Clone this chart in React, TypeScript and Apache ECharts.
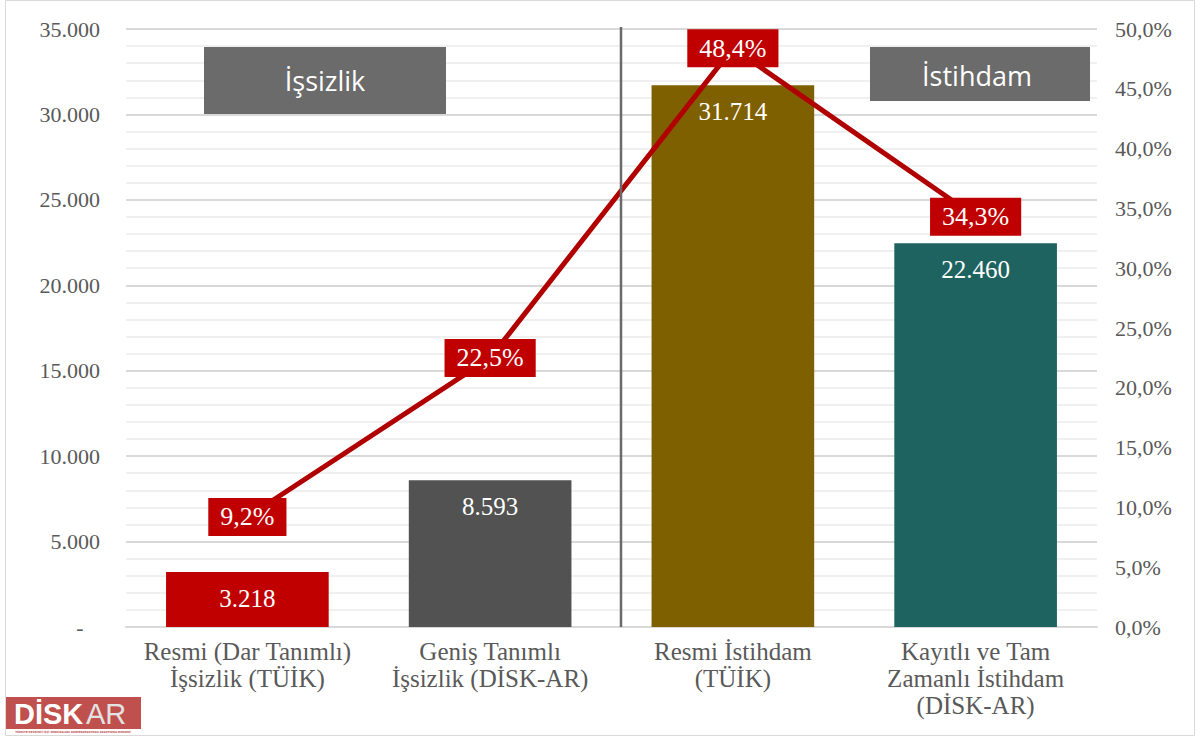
import React, { useEffect, useRef } from "react";
import * as echarts from "echarts";

const categories = [
  "Resmi (Dar Tanımlı)\nİşsizlik (TÜİK)",
  "Geniş Tanımlı\nİşsizlik (DİSK-AR)",
  "Resmi İstihdam\n(TÜİK)",
  "Kayıtlı ve Tam\nZamanlı İstihdam\n(DİSK-AR)",
];
const barValues = [3218, 8593, 31714, 22460];
const barColors = ["#c00000", "#525252", "#7f6000", "#1f6361"];
const rateValues = [9.2, 22.5, 48.4, 34.3];

const SERIF = "'Liberation Serif', 'DejaVu Serif', serif";
const SANS = "'Open Sans', 'Noto Sans', sans-serif";

const fmtThousands = (v: number) =>
  v === 0 ? "-   " : String(v).replace(/\B(?=(\d{3})+(?!\d))/g, ".");
const fmtPct = (v: number) => v.toFixed(1).replace(".", ",") + "%";

export default function App() {
  const ref = useRef<HTMLDivElement>(null);
  useEffect(() => {
    document.body.style.margin = "0";
    const chart = echarts.init(ref.current!, null, { renderer: "svg" });
    chart.setOption({
      animation: false,
      backgroundColor: "#ffffff",
      grid: { left: 126, right: 101, top: 29, bottom: 111 },
      xAxis: {
        type: "category",
        data: categories,
        axisTick: { show: false },
        axisLine: { show: true, lineStyle: { color: "#d9d9d9", width: 2 } },
        axisLabel: {
          color: "#595959",
          fontFamily: SERIF,
          fontSize: 25,
          lineHeight: 27,
          margin: 11,
          interval: 0,
        },
      },
      yAxis: [
        {
          type: "value",
          min: 0,
          max: 35000,
          interval: 5000,
          axisLine: { show: false },
          axisTick: { show: false },
          axisLabel: {
            color: "#595959",
            fontFamily: SERIF,
            fontSize: 22,
            margin: 26,
            formatter: fmtThousands,
          },
          splitLine: { show: true, lineStyle: { color: "#d9d9d9", width: 2 } },
          minorTick: { show: false, splitNumber: 5 },
          minorSplitLine: { show: true, lineStyle: { color: "#f0f0f0", width: 2 } },
        },
        {
          type: "value",
          min: 0,
          max: 50,
          interval: 5,
          position: "right",
          axisLine: { show: false },
          axisTick: { show: false },
          splitLine: { show: false },
          axisLabel: {
            color: "#595959",
            fontFamily: SERIF,
            fontSize: 22,
            margin: 18,
            formatter: fmtPct,
          },
        },
      ],
      series: [
        {
          type: "bar",
          yAxisIndex: 0,
          barWidth: "67%",
          data: barValues.map((v, i) => ({ value: v, itemStyle: { color: barColors[i] } })),
          label: {
            show: true,
            position: "insideTop",
            distance: 14,
            color: "#ffffff",
            fontFamily: SERIF,
            fontSize: 25,
            formatter: (p: any) => fmtThousands(p.value),
          },
          z: 2,
        },
        {
          type: "line",
          yAxisIndex: 1,
          data: rateValues,
          symbol: "circle",
          symbolSize: 1,
          itemStyle: { color: "#b00000" },
          lineStyle: { color: "#b00000", width: 5 },
          label: {
            show: true,
            position: "inside",
            color: "#ffffff",
            backgroundColor: "#c00000",
            padding: [7, 12, 5, 12],
            fontFamily: SERIF,
            fontSize: 26,
            formatter: (p: any) => fmtPct(p.value),
          },
          z: 5,
        },
      ],
      graphic: [
        {
          type: "rect",
          shape: { x: 5.5, y: 0.5, width: 1189, height: 735 },
          style: { fill: "none", stroke: "#d9d9d9", lineWidth: 1 },
          z: 0,
          silent: true,
        },
        {
          type: "line",
          shape: { x1: 621, y1: 27, x2: 621, y2: 627 },
          style: { stroke: "#6a6a6a", lineWidth: 2.5 },
          z: 100,
        },
        {
          type: "group",
          z: 100,
          children: [
            {
              type: "rect",
              z: 100,
              shape: { x: 204, y: 47, width: 242, height: 67 },
              style: { fill: "#6b6b6b" },
            },
            {
              type: "text",
              z: 101,
              x: 325,
              y: 80,
              style: {
                text: "İşsizlik",
                fill: "#ffffff",
                font: `27px ${SANS}`,
                align: "center",
                verticalAlign: "middle",
              },
            },
            {
              type: "rect",
              z: 100,
              shape: { x: 870, y: 47, width: 220, height: 54 },
              style: { fill: "#6b6b6b" },
            },
            {
              type: "text",
              z: 101,
              x: 977,
              y: 75,
              style: {
                text: "İstihdam",
                fill: "#ffffff",
                font: `27px ${SANS}`,
                align: "center",
                verticalAlign: "middle",
              },
            },
          ],
        },
        {
          type: "group",
          z: 100,
          children: [
            {
              type: "rect",
              z: 100,
              shape: { x: 6, y: 697, width: 135, height: 32 },
              style: { fill: "#c0504d" },
            },
            {
              type: "text",
              z: 101,
              x: 14,
              y: 714,
              style: {
                text: "DİSK",
                fill: "#ffffff",
                font: `bold 29px 'Liberation Sans', 'DejaVu Sans', sans-serif`,
                verticalAlign: "middle",
              },
            },
            {
              type: "text",
              z: 101,
              x: 86,
              y: 714,
              style: {
                text: "AR",
                fill: "#e3e3e3",
                font: `29px 'Liberation Sans', 'DejaVu Sans', sans-serif`,
                verticalAlign: "middle",
              },
            },
            {
              type: "text",
              z: 101,
              x: 73,
              y: 733,
              style: {
                text: "TÜRKİYE DEVRİMCİ İŞÇİ SENDİKALARI KONFEDERASYONU ARAŞTIRMA MERKEZİ",
                fill: "#c0504d",
                font: `bold 2.6px 'DejaVu Sans', sans-serif`,
                align: "center",
                verticalAlign: "middle",
              },
            },
          ],
        },
      ],
    });
    return () => chart.dispose();
  }, []);
  return <div ref={ref} style={{ width: 1198, height: 738 }} />;
}
